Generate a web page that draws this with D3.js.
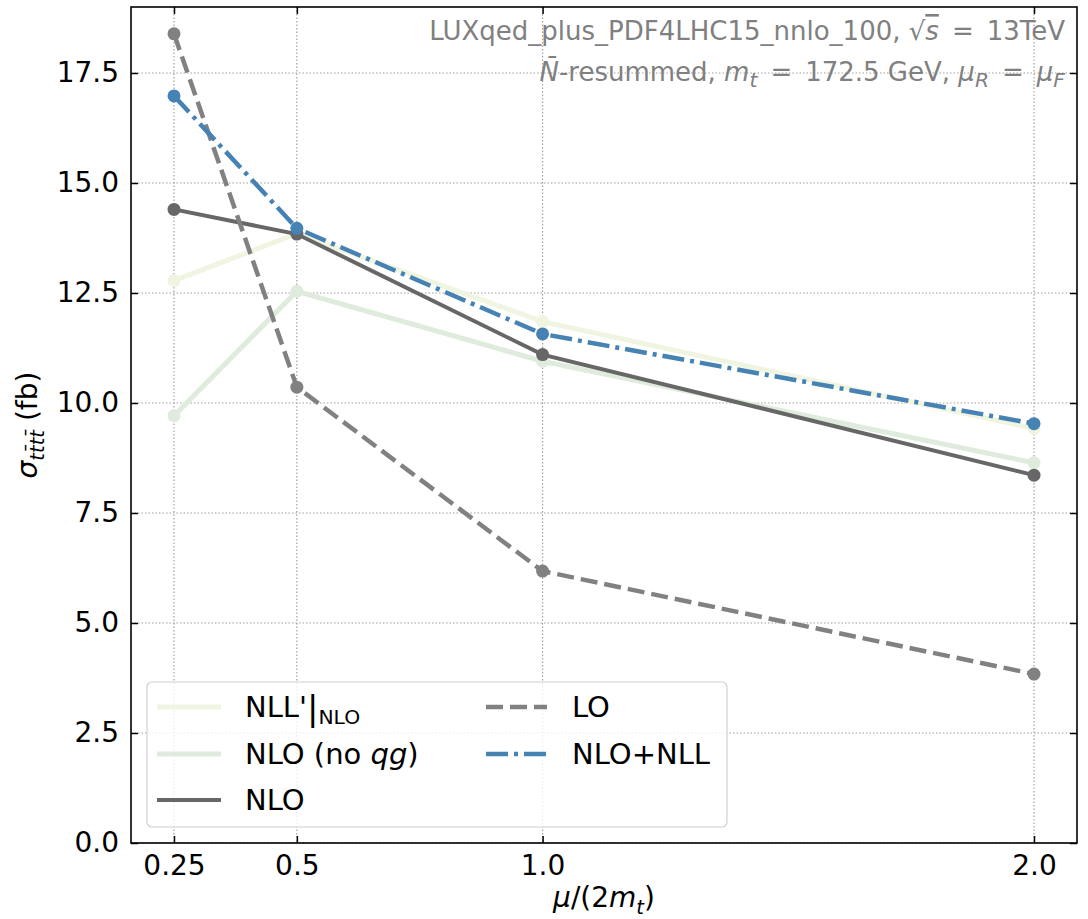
<!DOCTYPE html>
<html>
<head>
<meta charset="utf-8">
<script src="https://cdn.jsdelivr.net/npm/d3@7"></script>
<style>
  body { margin: 0; background: #fff; }
  svg { display: block; }
  text { font-family: "DejaVu Sans", sans-serif; }
</style>
</head>
<body>
<div id="chart"></div>
<script>
// scale choices mu/(2 m_t)
const muScales = [0.25, 0.5, 1.0, 2.0];

// cross sections (fb)
const nllPrimeNlo = [12.78, 13.85, 11.85, 9.42];
const nloNoQg     = [9.71, 12.54, 10.95, 8.64];
const nlo         = [14.40, 13.84, 11.10, 8.36];
const lo          = [18.39, 10.36, 6.18, 3.84];
const nloNll      = [16.98, 13.97, 11.57, 9.53];

// ticks
const xTicks = [0.25, 0.5, 1.0, 2.0];
const xTickLabels = ["0.25", "0.5", "1.0", "2.0"];
const yTicks = [0, 2.5, 5, 7.5, 10, 12.5, 15, 17.5];
const yTickLabels = ["0.0", "2.5", "5.0", "7.5", "10.0", "12.5", "15.0", "17.5"];

const W = 1088, H = 919;
const plot = { left: 131, top: 7, right: 1077, bottom: 843 };

const svg = d3.select("#chart").append("svg")
    .attr("width", W)
    .attr("height", H);

const x = d3.scaleLinear().domain([0.1625, 2.0875]).range([plot.left, plot.right]);
const y = d3.scaleLinear().domain([0, 19]).range([plot.bottom, plot.top]);

// rich text helper: parts = [{t, it, sub, over, size, dy}]
function rich(sel, parts, size, subScale = 0.7) {
    let shift = 0;
    parts.forEach(p => {
        const ts = sel.append("tspan").text(p.t);
        const target = p.sub ? size * 0.24 : (p.dy || 0);
        if (target !== shift) { ts.attr("dy", target - shift); shift = target; }
        if (p.sub) ts.style("font-size", (size * subScale) + "px");
        if (p.size) ts.style("font-size", p.size + "px");
        if (p.it) ts.style("font-style", "italic");
        if (p.over) ts.style("text-decoration", "overline");
    });
}

// grid
const grid = svg.append("g");
grid.selectAll("line.gx").data(xTicks).enter().append("line")
    .attr("x1", d => x(d)).attr("x2", d => x(d))
    .attr("y1", plot.top).attr("y2", plot.bottom)
    .attr("stroke", "#a0a0a0").attr("stroke-width", 1.2)
    .attr("stroke-dasharray", "1.5,2");
grid.selectAll("line.gy").data(yTicks).enter().append("line")
    .attr("x1", plot.left).attr("x2", plot.right)
    .attr("y1", d => y(d)).attr("y2", d => y(d))
    .attr("stroke", "#a0a0a0").attr("stroke-width", 1.2)
    .attr("stroke-dasharray", "1.5,2");

// series
const series = [
    { name: "nllp", values: nllPrimeNlo, color: "#eff5e1", width: 5, dash: null },
    { name: "noqg", values: nloNoQg, color: "#dfebdc", width: 5, dash: null },
    { name: "nlo", values: nlo, color: "#676767", width: 4, dash: null },
    { name: "lo", values: lo, color: "#818181", width: 4.5, dash: "17,7" },
    { name: "nlonll", values: nloNll, color: "#4682b4", width: 4.5, dash: "22,6,4,6" }
];

const line = d3.line()
    .x((d, i) => x(muScales[i]))
    .y(d => y(d));

series.forEach(s => {
    const g = svg.append("g");
    g.append("path")
        .datum(s.values)
        .attr("fill", "none")
        .attr("stroke", s.color)
        .attr("stroke-width", s.width)
        .attr("stroke-dasharray", s.dash)
        .attr("d", line);
    g.selectAll("circle").data(s.values).enter().append("circle")
        .attr("cx", (d, i) => x(muScales[i]))
        .attr("cy", d => y(d))
        .attr("r", 6.5)
        .attr("fill", s.color);
});

// axes with inward ticks on all sides
const tickLen = 7;
function styleAxis(g) {
    g.select(".domain").remove();
    g.selectAll(".tick line").attr("stroke", "#000").attr("stroke-width", 1.5);
    g.selectAll(".tick text").style("font-size", "28px").attr("fill", "#000");
}
svg.append("g")
    .attr("transform", `translate(0,${plot.bottom})`)
    .call(d3.axisBottom(x).tickValues(xTicks).tickFormat((d, i) => xTickLabels[i])
        .tickSizeInner(-tickLen).tickSizeOuter(0).tickPadding(12))
    .call(styleAxis);
svg.append("g")
    .attr("transform", `translate(${plot.left},0)`)
    .call(d3.axisLeft(y).tickValues(yTicks).tickFormat((d, i) => yTickLabels[i])
        .tickSizeInner(-tickLen).tickSizeOuter(0).tickPadding(12))
    .call(styleAxis);
svg.append("g")
    .attr("transform", `translate(0,${plot.top})`)
    .call(d3.axisTop(x).tickValues(xTicks).tickFormat("").tickSizeInner(-tickLen).tickSizeOuter(0))
    .call(styleAxis);
svg.append("g")
    .attr("transform", `translate(${plot.right},0)`)
    .call(d3.axisRight(y).tickValues(yTicks).tickFormat("").tickSizeInner(-tickLen).tickSizeOuter(0))
    .call(styleAxis);

// frame
svg.append("rect")
    .attr("x", plot.left).attr("y", plot.top)
    .attr("width", plot.right - plot.left).attr("height", plot.bottom - plot.top)
    .attr("fill", "none").attr("stroke", "#000").attr("stroke-width", 1.6);

// axis labels
const xl = svg.append("text")
    .attr("x", (plot.left + plot.right) / 2).attr("y", 907)
    .attr("text-anchor", "middle")
    .style("font-size", "28px");
rich(xl, [{ t: "\u03bc", it: true }, { t: "/(2" }, { t: "m", it: true }, { t: "t", it: true, sub: true }, { t: ")" }], 28);

const yl = svg.append("text")
    .attr("transform", `translate(37,${(plot.top + plot.bottom) / 2}) rotate(-90)`)
    .attr("text-anchor", "middle")
    .style("font-size", "28px");
rich(yl, [{ t: "\u03c3", it: true }, { t: "tt\u0304tt\u0304", it: true, sub: true }, { t: " (fb)" }], 28);

// annotation
const ann1 = svg.append("text")
    .attr("x", 1065).attr("y", 40)
    .attr("text-anchor", "end")
    .attr("fill", "#808080")
    .style("font-size", "26px");
rich(ann1, [{ t: "LUXqed_plus_PDF4LHC15_nnlo_100, \u221a" }, { t: "s", it: true, over: true }, { t: "\u2002=\u200213TeV" }], 26);

const ann2 = svg.append("text")
    .attr("x", 1065).attr("y", 81)
    .attr("text-anchor", "end")
    .attr("fill", "#808080")
    .style("font-size", "26px");
rich(ann2, [
    { t: "N\u0304", it: true }, { t: "-resummed, " },
    { t: "m", it: true }, { t: "t", it: true, sub: true },
    { t: "\u2002=\u2002172.5 GeV, " },
    { t: "\u03bc", it: true }, { t: "R", it: true, sub: true },
    { t: "\u2002=\u2002" },
    { t: "\u03bc", it: true }, { t: "F", it: true, sub: true }
], 26, 0.78);

// legend
const legend = svg.append("g");
legend.append("rect")
    .attr("x", 147).attr("y", 682).attr("width", 580).attr("height", 145)
    .attr("rx", 5)
    .attr("fill", "#fff").attr("fill-opacity", 0.8)
    .attr("stroke", "#d0d0d0").attr("stroke-width", 1.2);

const legendItems = [
    { s: series[0], col: 0, row: 0, label: [{ t: "NLL'" }, { t: "|", size: 34, dy: 3 }, { t: "NLO", sub: true }] },
    { s: series[1], col: 0, row: 1, label: [{ t: "NLO (no " }, { t: "qg", it: true }, { t: ")" }] },
    { s: series[2], col: 0, row: 2, label: [{ t: "NLO" }] },
    { s: series[3], col: 1, row: 0, label: [{ t: "LO" }] },
    { s: series[4], col: 1, row: 1, label: [{ t: "NLO+NLL" }] }
];
const colX = [{ h0: 157, h1: 221, tx: 245 }, { h0: 486, h1: 547, tx: 572 }];
const rowY = [707, 754, 800];

legendItems.forEach(it => {
    const c = colX[it.col], yy = rowY[it.row];
    legend.append("line")
        .attr("x1", c.h0).attr("x2", c.h1).attr("y1", yy).attr("y2", yy)
        .attr("stroke", it.s.color).attr("stroke-width", it.s.width)
        .attr("stroke-dasharray", it.s.dash);
    const t = legend.append("text")
        .attr("x", c.tx).attr("y", yy + 10)
        .style("font-size", "29px");
    rich(t, it.label, 29);
});
</script>
</body>
</html>
